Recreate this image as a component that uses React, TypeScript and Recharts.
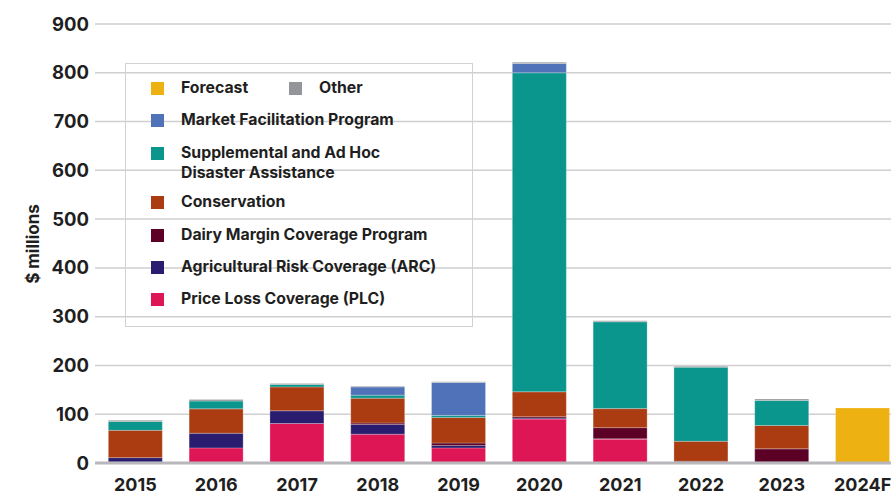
import React from 'react';
import { BarChart, Bar, XAxis, YAxis, CartesianGrid } from 'recharts';

const categories = ['2015', '2016', '2017', '2018', '2019', '2020', '2021', '2022', '2023', '2024F'];
const plc = [2, 31, 81, 59, 31, 90, 49, 1, 1, 0];
const arc = [9, 30, 26, 20, 5, 2, 0.5, 0.5, 1, 0.5];
const dairy = [0, 0, 0, 3, 5, 3, 23, 2, 27, 0.5];
const conservation = [56, 50, 49, 51, 52.5, 51, 39, 41, 48, 0];
const supplemental = [18, 16, 5, 6, 4, 654, 178, 152, 51, 0];
const mfp = [0, 0, 0, 17, 67.5, 19, 0, 0, 0, 0];
const other = [2.5, 3, 2, 1.5, 1.5, 2.5, 2, 2, 3, 0];
const forecast = [0, 0, 0, 0, 0, 0, 0, 0, 0, 112];
const yTicks = [0, 100, 200, 300, 400, 500, 600, 700, 800, 900];

const series = [
  { key: 'plc', name: 'Price Loss Coverage (PLC)', color: '#DF1656', values: plc },
  { key: 'arc', name: 'Agricultural Risk Coverage (ARC)', color: '#2A1C6E', values: arc },
  { key: 'dairy', name: 'Dairy Margin Coverage Program', color: '#5C0026', values: dairy },
  { key: 'conservation', name: 'Conservation', color: '#AB3C12', values: conservation },
  { key: 'supplemental', name: 'Supplemental and Ad Hoc Disaster Assistance', color: '#0A958D', values: supplemental },
  { key: 'mfp', name: 'Market Facilitation Program', color: '#5072B9', values: mfp },
  { key: 'other', name: 'Other', color: '#939598', values: other },
  { key: 'forecast', name: 'Forecast', color: '#EDB111', values: forecast },
];

const data = categories.map((c, i) => {
  const row: any = { year: c };
  series.forEach((s) => { row[s.key] = s.values[i]; });
  return row;
});

const FONT = 'Inter, "Noto Sans", sans-serif';
const TEXT = '#1f1f22';

const colorOf = (k: string) => series.find((s) => s.key === k)!.color;

const Swatch = ({ c }: { c: string }) => (
  <span style={{ display: 'inline-block', width: 13, height: 13, background: c, flex: '0 0 13px', marginTop: 1 }} />
);

const Item = ({ k, label, top, left = 25 }: { k: string; label: React.ReactNode; top: number; left?: number }) => (
  <div style={{ position: 'absolute', left, top, display: 'flex', alignItems: 'flex-start' }}>
    <Swatch c={colorOf(k)} />
    <span style={{ marginLeft: 17, lineHeight: '19.5px', marginTop: -3, whiteSpace: 'nowrap' }}>{label}</span>
  </div>
);

const LegendBox = () => (
  <div
    style={{
      position: 'absolute',
      left: 125,
      top: 63,
      width: 348,
      height: 264,
      border: '1px solid #d2d2d4',
      boxSizing: 'border-box',
      fontFamily: FONT,
      fontWeight: 700,
      fontSize: 15.8,
      color: TEXT,
    }}
  >
    <Item k="forecast" label="Forecast" top={17} />
    <Item k="other" label="Other" top={17} left={163} />
    <Item k="mfp" label="Market Facilitation Program" top={49} />
    <Item k="supplemental" label={<>Supplemental and Ad Hoc<br />Disaster Assistance</>} top={82} />
    <Item k="conservation" label="Conservation" top={131} />
    <Item k="dairy" label="Dairy Margin Coverage Program" top={164} />
    <Item k="arc" label="Agricultural Risk Coverage (ARC)" top={196} />
    <Item k="plc" label="Price Loss Coverage (PLC)" top={228} />
  </div>
);

const YLabel = () => (
  <text
    x={33}
    y={244}
    transform="rotate(-90 33 244)"
    textAnchor="middle"
    dominantBaseline="central"
    fontFamily={FONT}
    fontWeight={700}
    fontSize={17}
    fill={TEXT}
  >
    $ millions
  </text>
);

export default function App() {
  return (
    <div style={{ position: 'fixed', left: 0, top: 0, width: 891, height: 495, overflow: 'hidden', background: '#fff' }}>
      <BarChart
        width={903}
        height={495}
        data={data}
        margin={{ top: 24, right: 0, bottom: 0, left: 0 }}
        barCategoryGap="16.5%"
      >
        <CartesianGrid vertical={false} stroke="#cfcfd1" strokeWidth={1.5} />
        <XAxis
          dataKey="year"
          height={32}
          tickLine={false}
          axisLine={{ stroke: '#b8b8bc', strokeWidth: 3 }}
          tickSize={0}
          tickMargin={15}
          tick={{ fontFamily: FONT, fontWeight: 700, fontSize: 18, fill: TEXT }}
          interval={0}
        />
        <YAxis
          width={95}
          domain={[0, 900]}
          ticks={yTicks}
          interval={0}
          tickLine={false}
          axisLine={false}
          tickSize={0}
          tickMargin={6}
          tick={{ fontFamily: FONT, fontWeight: 700, fontSize: 18.5, fill: TEXT }}
          label={<YLabel />}
        />
        {series.map((s) => (
          <Bar
            key={s.key}
            dataKey={s.key}
            name={s.name}
            stackId="a"
            fill={s.color}
            stroke="#ffffff"
            strokeOpacity={0.25}
            strokeWidth={1}
            isAnimationActive={false}
          />
        ))}
      </BarChart>
      <LegendBox />
    </div>
  );
}
